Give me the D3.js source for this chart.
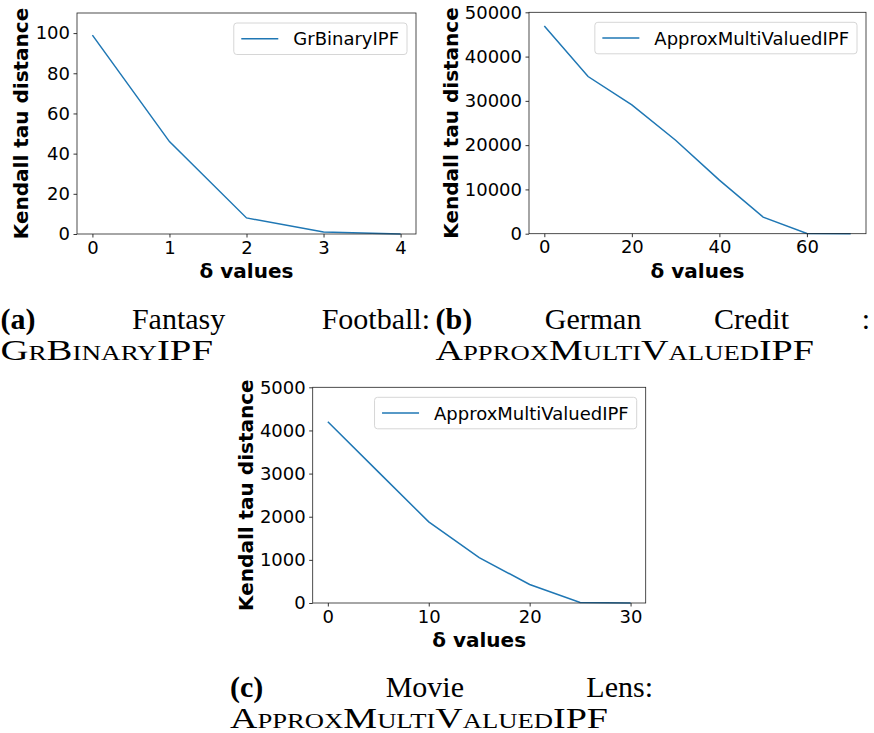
<!DOCTYPE html>
<html>
<head>
<meta charset="utf-8">
<script src="https://cdn.jsdelivr.net/npm/d3@7"></script>
<style>
  body { margin: 0; background: #fff; }
  svg { display: block; }
</style>
</head>
<body>
<div id="chart"></div>
<script>
// --- data ---
const deltaA = [0, 1, 2, 3, 4];
const kendallA = [99, 46, 8, 1, 0];
const xTicksA = [0, 1, 2, 3, 4];
const yTicksA = [0, 20, 40, 60, 80, 100];

const deltaB = [0, 10, 20, 30, 40, 50, 60, 70];
const kendallB = [46900, 35500, 29100, 21100, 12100, 3750, 60, 0];
const xTicksB = [0, 20, 40, 60];
const yTicksB = [0, 10000, 20000, 30000, 40000, 50000];

const deltaC = [0, 5, 10, 15, 20, 25, 30];
const kendallC = [4200, 3040, 1880, 1050, 430, 10, 0];
const xTicksC = [0, 10, 20, 30];
const yTicksC = [0, 1000, 2000, 3000, 4000, 5000];

const seriesNames = ["GrBinaryIPF", "ApproxMultiValuedIPF", "ApproxMultiValuedIPF"];
const captionLine1 = [
    ["(a)", "Fantasy", "Football:"],
    ["(b)", "German", "Credit", ":"],
    ["(c)", "Movie", "Lens:"]
];
const captionLine2 = ["GrBinaryIPF", "ApproxMultiValuedIPF", "ApproxMultiValuedIPF"];

const xLabel = "δ values";
const yLabel = "Kendall tau distance";

const lineColor = "#1f77b4";
const sans = "'DejaVu Sans', sans-serif";
const serif = "'Liberation Serif', serif";

const width = 874, height = 733;

const svg = d3.select("#chart").append("svg")
    .attr("width", width)
    .attr("height", height);

svg.append("rect").attr("width", width).attr("height", height).attr("fill", "#fff");

// panel boxes (pixel layout of each axes)
const panels = [
    { xs: deltaA, ys: kendallA, xt: xTicksA, yt: yTicksA, xdom: [-0.2, 4.2], ydom: [0, 110],
      left: 77, right: 416, top: 13, bottom: 234, ylabX: 28, name: seriesNames[0] },
    { xs: deltaB, ys: kendallB, xt: xTicksB, yt: yTicksB, xdom: [-3.5, 73.5], ydom: [0, 50000],
      left: 529, right: 866, top: 12.3, bottom: 233.7, ylabX: 458, name: seriesNames[1] },
    { xs: deltaC, ys: kendallC, xt: xTicksC, yt: yTicksC, xdom: [-1.5, 31.5], ydom: [0, 5000],
      left: 312.7, right: 645.7, top: 387.3, bottom: 603, ylabX: 253, name: seriesNames[2] }
];

function drawPanel(p) {
    const x = d3.scaleLinear().domain(p.xdom).range([p.left, p.right]);
    const y = d3.scaleLinear().domain(p.ydom).range([p.bottom, p.top]);
    const g = svg.append("g");

    // the line
    const pts = p.xs.map((d, i) => [d, p.ys[i]]);
    g.append("path")
        .datum(pts)
        .attr("fill", "none")
        .attr("stroke", lineColor)
        .attr("stroke-width", 1.5)
        .attr("d", d3.line().x(d => x(d[0])).y(d => y(d[1])));

    // axes
    const xAxis = g.append("g")
        .attr("transform", "translate(0," + p.bottom + ")")
        .call(d3.axisBottom(x).tickValues(p.xt).tickFormat(d3.format("d")).tickSize(3.5).tickPadding(3.5));
    const yAxis = g.append("g")
        .attr("transform", "translate(" + p.left + ",0)")
        .call(d3.axisLeft(y).tickValues(p.yt).tickFormat(d3.format("d")).tickSize(3.5).tickPadding(3.5));
    [xAxis, yAxis].forEach(a => {
        a.select(".domain").remove();
        a.selectAll("line").attr("stroke", "#000").attr("stroke-width", 0.8);
        a.selectAll("text")
            .attr("fill", "#000")
            .style("font-family", sans)
            .style("font-size", "18px");
    });

    // frame
    g.append("rect")
        .attr("x", p.left).attr("y", p.top)
        .attr("width", p.right - p.left).attr("height", p.bottom - p.top)
        .attr("fill", "none")
        .attr("stroke", "#222")
        .attr("stroke-width", 0.8);

    // axis labels
    g.append("text")
        .attr("x", (p.left + p.right) / 2)
        .attr("y", p.bottom + 44)
        .attr("text-anchor", "middle")
        .style("font-family", sans)
        .style("font-size", "20px")
        .style("font-weight", "bold")
        .text(xLabel);
    g.append("text")
        .attr("transform", "translate(" + p.ylabX + "," + ((p.top + p.bottom) / 2) + ") rotate(-90)")
        .attr("text-anchor", "middle")
        .style("font-family", sans)
        .style("font-size", "20px")
        .style("font-weight", "bold")
        .text(yLabel);

    // legend (upper right)
    const leg = g.append("g");
    const box = leg.append("rect");
    const txt = leg.append("text")
        .style("font-family", sans)
        .style("font-size", "18px")
        .text(p.name);
    const tw = txt.node().getComputedTextLength();
    const bw = 7.5 + 37 + 15 + tw + 8;
    const bx = p.right - 9 - bw, by = p.top + 10, bh = 31.5;
    box.attr("x", bx).attr("y", by).attr("width", bw).attr("height", bh)
        .attr("rx", 3)
        .attr("fill", "#fff")
        .attr("stroke", "#d6d6d6")
        .attr("stroke-width", 1);
    leg.append("line")
        .attr("x1", bx + 7.5).attr("x2", bx + 44.5)
        .attr("y1", by + bh / 2).attr("y2", by + bh / 2)
        .attr("stroke", lineColor).attr("stroke-width", 1.5);
    txt.attr("x", bx + 59.5).attr("y", by + bh / 2 + 6.5);
}

panels.forEach(drawPanel);

// --- LaTeX-style captions ---
function justified(words, x0, x1, yb) {
    const nodes = words.map((w, i) => svg.append("text")
        .attr("y", yb)
        .style("font-family", serif)
        .style("font-size", "30px")
        .style("font-weight", i === 0 ? "bold" : "normal")
        .attr("fill", "#000")
        .text(w));
    const widths = nodes.map(n => n.node().getComputedTextLength());
    const gap = (x1 - x0 - d3.sum(widths)) / (words.length - 1);
    let cx = x0;
    nodes.forEach((n, i) => { n.attr("x", cx); cx += widths[i] + gap; });
}

function smallCaps(word, x0, x1, yb) {
    svg.append("text")
        .attr("x", x0).attr("y", yb)
        .attr("textLength", x1 - x0)
        .attr("lengthAdjust", "spacingAndGlyphs")
        .style("font-family", serif)
        .style("font-size", "30px")
        .style("font-variant", "small-caps")
        .attr("fill", "#000")
        .text(word);
}

const captionBoxes = [
    { x0: 0.5, x1: 430, end2: 213, y1: 329, y2: 360 },
    { x0: 435.5, x1: 870, end2: 814, y1: 329, y2: 360 },
    { x0: 230, x1: 653, end2: 608, y1: 697, y2: 728 }
];
captionBoxes.forEach((c, i) => {
    justified(captionLine1[i], c.x0, c.x1, c.y1);
    smallCaps(captionLine2[i], c.x0, c.end2, c.y2);
});
</script>
</body>
</html>
